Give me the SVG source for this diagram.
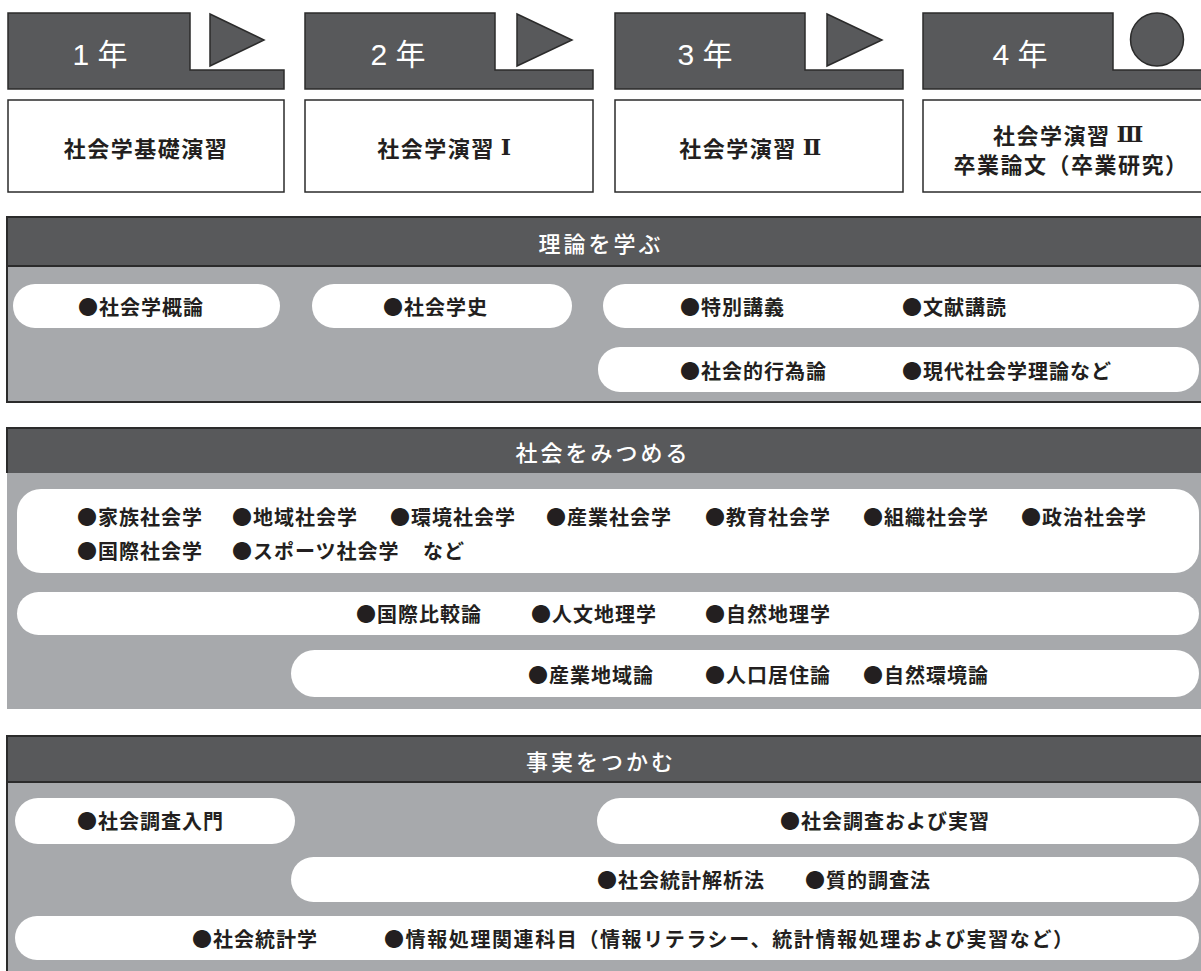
<svg xmlns="http://www.w3.org/2000/svg" width="1201" height="971" viewBox="0 0 1201 971">
<defs>
<style>
.tab{fill:#58595b;stroke:#2b2b2b;stroke-width:1.5}
.box{fill:#fff;stroke:#2b2b2b;stroke-width:1.5}
.yr{font-family:"Liberation Sans","Noto Sans CJK JP",sans-serif;font-size:30px;fill:#fff;text-anchor:middle;dominant-baseline:central}
.bt{font-family:"Noto Sans CJK JP",sans-serif;font-size:22px;font-weight:700;fill:#231f20;text-anchor:middle;dominant-baseline:central;letter-spacing:1.5px}
.rn{font-family:"DejaVu Serif","Liberation Serif",serif;font-weight:700}
.hd{fill:#58595b}
.bd{fill:#a7a9ac}
.ln{fill:none;stroke:#2b2b2b;stroke-width:2}
.ht{font-family:"Noto Sans CJK JP",sans-serif;font-size:22px;font-weight:500;fill:#fff;text-anchor:middle;dominant-baseline:central;letter-spacing:3px}
.pill{fill:#fff}
.pt{font-family:"Noto Sans CJK JP",sans-serif;font-size:20px;font-weight:700;fill:#231f20;dominant-baseline:central;letter-spacing:1px}
</style>
</defs>

<g id="year1">
<path class="tab" d="M8,13 H190 V70 H284 V89 H8 Z"/>
<polygon class="tab" points="210,14 264,40 210,66"/>
<text class="yr" x="100" y="54">1 年</text>
<rect class="box" x="8" y="100" width="276" height="92"/>
<text class="bt" x="146" y="147">社会学基礎演習</text>
</g>
<g id="year2">
<path class="tab" d="M305,13 H495 V70 H593 V89 H305 Z"/>
<polygon class="tab" points="517,14 572,40 517,66"/>
<text class="yr" x="398" y="54">2 年</text>
<rect class="box" x="305" y="100" width="288" height="92"/>
<text class="bt" x="445" y="147">社会学演習<tspan class="rn" dx="6">Ⅰ</tspan></text>
</g>
<g id="year3">
<path class="tab" d="M615,13 H805 V70 H903 V89 H615 Z"/>
<polygon class="tab" points="827,14 882,40 827,66"/>
<text class="yr" x="705" y="54">3 年</text>
<rect class="box" x="615" y="100" width="288" height="92"/>
<text class="bt" x="751" y="147">社会学演習<tspan class="rn" dx="6">Ⅱ</tspan></text>
</g>
<g id="year4">
<path class="tab" d="M923,13 H1113 V70 H1212 V89 H923 Z"/>
<circle class="tab" cx="1157" cy="39.5" r="26.5"/>
<text class="yr" x="1020" y="54">4 年</text>
<rect class="box" x="923" y="100" width="290" height="92"/>
<text class="bt" x="1069" y="134">社会学演習<tspan class="rn" dx="6">Ⅲ</tspan></text>
<text class="bt" x="1071" y="163">卒業論文（卒業研究）</text>
</g>

<g id="theory">
<rect class="hd" x="7" y="217" width="1200" height="49"/>
<rect class="bd" x="7" y="266" width="1200" height="136"/>
<path class="ln" d="M1210,217 H7 V402 H1210 M7,266 H1210"/>
<text class="ht" x="601" y="242">理論を学ぶ</text>
<rect class="pill" x="13" y="284" width="267" height="44" rx="22"/>
<text class="pt" x="78" y="306">●社会学概論</text>
<rect class="pill" x="312" y="284" width="260" height="44" rx="22"/>
<text class="pt" x="383" y="306">●社会学史</text>
<rect class="pill" x="603" y="284" width="596" height="44" rx="22"/>
<text class="pt" x="680" y="306">●特別講義</text>
<text class="pt" x="902" y="306">●文献講読</text>
<rect class="pill" x="598" y="347" width="601" height="45" rx="22"/>
<text class="pt" x="680" y="370">●社会的行為論</text>
<text class="pt" x="902" y="370">●現代社会学理論など</text>
</g>

<g id="society">
<rect class="hd" x="7" y="428" width="1200" height="45"/>
<rect class="bd" x="7" y="473" width="1200" height="236"/>
<path class="ln" d="M1210,428 H7 V473"/>
<text class="ht" x="603" y="451">社会をみつめる</text>
<rect class="pill" x="17" y="489" width="1182" height="84" rx="24"/>
<text class="pt" x="77" y="516">●家族社会学</text>
<text class="pt" x="232" y="516">●地域社会学</text>
<text class="pt" x="390" y="516">●環境社会学</text>
<text class="pt" x="546" y="516">●産業社会学</text>
<text class="pt" x="705" y="516">●教育社会学</text>
<text class="pt" x="863" y="516">●組織社会学</text>
<text class="pt" x="1021" y="516">●政治社会学</text>
<text class="pt" x="77" y="550">●国際社会学</text>
<text class="pt" x="232" y="550">●スポーツ社会学</text>
<text class="pt" x="423" y="550">など</text>
<rect class="pill" x="17" y="592" width="1182" height="43" rx="21.5"/>
<text class="pt" x="356" y="613">●国際比較論</text>
<text class="pt" x="531" y="613">●人文地理学</text>
<text class="pt" x="705" y="613">●自然地理学</text>
<rect class="pill" x="291" y="650" width="908" height="47" rx="23.5"/>
<text class="pt" x="528" y="674">●産業地域論</text>
<text class="pt" x="705" y="674">●人口居住論</text>
<text class="pt" x="863" y="674">●自然環境論</text>
</g>

<g id="facts">
<rect class="hd" x="7" y="736" width="1200" height="46"/>
<rect class="bd" x="7" y="782" width="1200" height="195"/>
<path class="ln" d="M1210,736 H7 V980 M7,782 H1210"/>
<text class="ht" x="601" y="760">事実をつかむ</text>
<rect class="pill" x="15" y="798" width="280" height="46" rx="23"/>
<text class="pt" x="77" y="820">●社会調査入門</text>
<rect class="pill" x="597" y="798" width="602" height="46" rx="23"/>
<text class="pt" x="780" y="820">●社会調査および実習</text>
<rect class="pill" x="291" y="857" width="908" height="45" rx="22.5"/>
<text class="pt" x="597" y="879">●社会統計解析法</text>
<text class="pt" x="805" y="879">●質的調査法</text>
<rect class="pill" x="15" y="916" width="1184" height="44" rx="22"/>
<text class="pt" x="192" y="938">●社会統計学</text>
<text class="pt" x="384" y="938" style="letter-spacing:1.6px">●情報処理関連科目（情報リテラシー、統計情報処理および実習など）</text>
</g>
</svg>
